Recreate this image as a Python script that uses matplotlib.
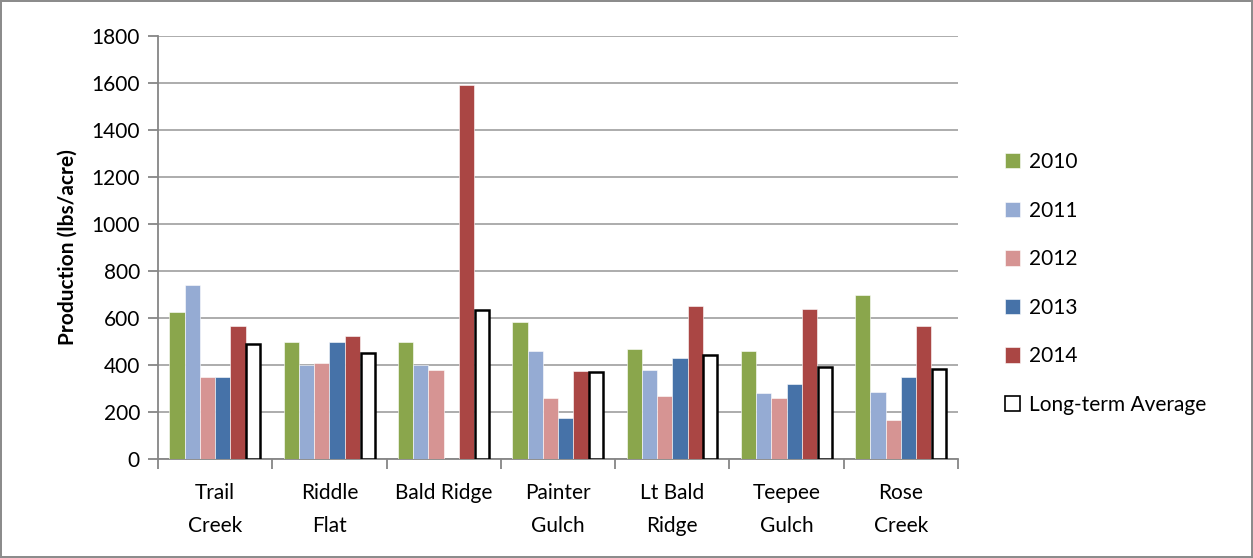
import matplotlib.pyplot as plt
import numpy as np

sites = ["Trail\nCreek", "Riddle\nFlat", "Bald Ridge", "Painter\nGulch",
         "Lt Bald\nRidge", "Teepee\nGulch", "Rose\nCreek"]
series_names = ["2010", "2011", "2012", "2013", "2014", "Long-term Average"]
prod_2010 = [625, 500, 500, 585, 470, 460, 700]
prod_2011 = [740, 400, 400, 460, 380, 280, 285]
prod_2012 = [350, 410, 380, 260, 270, 260, 165]
prod_2013 = [350, 500, 0, 175, 430, 320, 350]
prod_2014 = [565, 525, 1590, 375, 650, 640, 565]
long_term_avg = [488, 452, 632, 372, 442, 392, 382]

colors = ["#8AA64C", "#95ABD3", "#D69493", "#4672A8", "#AA4644"]

plt.rcParams['font.family'] = ['Lato', 'DejaVu Sans']

fig = plt.figure(figsize=(12.53, 5.58), dpi=100)
fig.patch.set_edgecolor("#8c8c8c")
fig.patch.set_linewidth(1.5)
ax = fig.add_axes([0.1261, 0.1774, 0.6385, 0.7581])

x = np.arange(len(sites))
n = len(series_names)
w = 0.8 / n
values = [prod_2010, prod_2011, prod_2012, prod_2013, prod_2014]
for i, (vals, c) in enumerate(zip(values, colors)):
    ax.bar(x - 0.4 + w * (i + 0.5), vals, width=w, color=c,
           edgecolor="white", linewidth=0.4, label=series_names[i], zorder=3)
ax.bar(x - 0.4 + w * (n - 0.5), long_term_avg, width=w * 0.92, facecolor="white",
       edgecolor="black", linewidth=1.8, label=series_names[-1], zorder=3)

ax.set_xlim(-0.5, len(sites) - 0.5)
ax.set_ylim(0, 1800)
ax.set_yticks(np.arange(0, 1801, 200))
ax.yaxis.grid(True, color="#a6a6a6", linewidth=1.3, zorder=0)
ax.set_axisbelow(True)

ax.set_xticks(x)
ax.set_xticklabels(sites, fontsize=15, linespacing=1.85)
ax.tick_params(axis="x", length=0, pad=17)
ax.set_xticks(np.arange(-0.5, len(sites)), minor=True)
ax.tick_params(axis="x", which="minor", length=7, color="#868686", width=1.3)
ax.tick_params(axis="y", length=7, color="#868686", width=1.3, labelsize=15, pad=6)

for side in ["top", "right"]:
    ax.spines[side].set_visible(False)
for side in ["left", "bottom"]:
    ax.spines[side].set_color("#868686")
    ax.spines[side].set_linewidth(1.3)

ax.set_ylabel("Production (lbs/acre)", fontsize=15, fontweight="bold", labelpad=10)

leg = ax.legend(loc="center left", bbox_to_anchor=(1.035, 0.415), frameon=False,
                fontsize=15, handlelength=0.75, handleheight=0.75,
                handletextpad=0.4, labelspacing=1.37)
leg.legend_handles[-1].set_linewidth(1.2)

fig.savefig("out.png", dpi=100, edgecolor=fig.get_edgecolor())
